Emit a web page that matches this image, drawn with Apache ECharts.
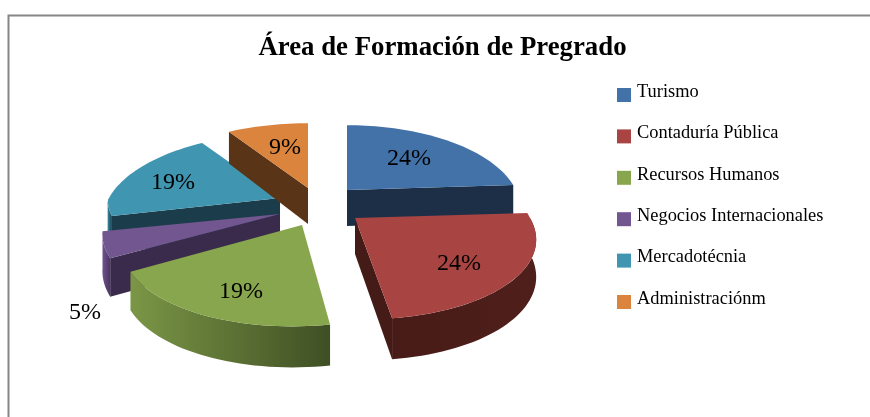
<!DOCTYPE html>
<html><head><meta charset="utf-8">
<style>html,body{margin:0;padding:0;background:#fff}#c{width:870px;height:417px}</style>
<script src="https://cdn.jsdelivr.net/npm/echarts@6/dist/echarts.min.js"></script>
</head><body><div id="c"></div>
<script>
const titleText = 'Área de Formación de Pregrado';
const categories = ['Turismo','Contaduría Pública','Recursos Humanos','Negocios Internacionales','Mercadotécnia','Administraciónm'];
const values = [24,24,19,5,19,9];
const topColors = ['#4372a8','#a84543','#88a64d','#71568f','#4096b0','#db843d'];
const sideColors = ['#1c2f47','#451b18','#3f4f24','#3a2a4b','#1b3c4a','#5a3417'];
const arcLight = ['#1c2f47','#4f1f1b','#7b9646','#6f5390','#3a8aa2','#5a3417'];
const arcDark = ['#1c2f47','#471b17','#3f4f24','#4a3560','#1b3c4a','#5a3417'];
// layout of the exploded wedges (apex of each wedge on the page, and per-wedge perspective tuning)
const apexes = [[347,190],[355,218],[302,225],[280,214],[280,198],[308,188]];
const labelOffsets = [[62,-31],[104,46],[-61,67],[-195,99],[-107,-15],[-23,-40]];
const zOrder = [3,6,5,2,1,4];
const rxScale = [0.965,1,1,0.99,0.985,1];
const shearX = [0,0.09,0,0,0.55,0];
const shearY = [0,0,-0.025,-0.01,-0.015,0];
const RX=175, RY=79, K=0.22;

const total = values.reduce((a,b)=>a+b,0);
let acc = 0;
const spans = values.map(v=>{const s=acc/total*360; acc+=v; return [s,acc/total*360];});

function project(i,deg){
  const t=deg*Math.PI/180, u=Math.sin(t), v=Math.cos(t), w=1+K*v;
  const x=RX*rxScale[i]*u/w, y=-RY*v/w;
  return {x:x+shearX[i]*Math.max(y,0), y:y+shearY[i]*x, d:36-5*v};
}
function arcPts(i,a,b){
  const out=[], n=Math.max(2,Math.ceil((b-a)/2));
  for(let k=0;k<=n;k++){
    const p=project(i,a+(b-a)*k/n);
    out.push([apexes[i][0]+p.x, apexes[i][1]+p.y, p.d]);
  }
  return out;
}
function renderSlice(i){
  return function(){
    const [s,e]=spans[i], [ax,ay]=apexes[i], z=zOrder[i]*10, kids=[];
    const poly=(points,fill,dz)=>kids.push({type:'polygon',shape:{points},style:{fill},z2:z+dz,silent:true});
    const radial=(deg)=>{
      const p=project(i,deg);
      poly([[ax,ay],[ax+p.x,ay+p.y],[ax+p.x,ay+p.y+p.d],[ax,ay+36]],sideColors[i],1);
    };
    if(Math.sin(s*Math.PI/180)<-0.01) radial(s);
    if(Math.sin(e*Math.PI/180)>0.01) radial(e);
    const a0=Math.max(s,90), b0=Math.min(e,270);
    if(b0>a0){
      const pts=arcPts(i,a0,b0);
      const wall=pts.map(p=>[p[0],p[1]]).concat(pts.slice().reverse().map(p=>[p[0],p[1]+p[2]]));
      const right=i<2;
      poly(wall,new echarts.graphic.LinearGradient(0,0,1,0,[
        {offset:0,color:right?arcDark[i]:arcLight[i]},
        {offset:1,color:right?arcLight[i]:arcDark[i]}
      ]),2);
    }
    const face=[[ax,ay]].concat(arcPts(i,s,e).map(p=>[p[0],p[1]]));
    poly(face,topColors[i],3);
    kids.push({type:'text',silent:true,z2:100,style:{
      x:ax+labelOffsets[i][0],y:ay+labelOffsets[i][1],text:values[i]+'%',
      fill:'#000',font:'24px "Liberation Serif"',textAlign:'center',textVerticalAlign:'middle'}});
    return {type:'group',children:kids};
  };
}
const chart=echarts.init(document.getElementById('c'),null,{renderer:'canvas'});
chart.setOption({
  animation:false,
  backgroundColor:'#fff',
  title:{text:titleText,left:437.5,top:30,textAlign:'center',
    textStyle:{fontFamily:'Liberation Serif',fontWeight:'bold',fontSize:26.8,color:'#000'}},
  legend:{orient:'vertical',left:612,top:78,itemWidth:14,itemHeight:14,itemGap:22.4,icon:'rect',
    selectedMode:false,data:categories,
    formatter:name=>'{t|'+name+'}',
    textStyle:{fontFamily:'Liberation Serif',fontSize:18.4,color:'#000',
      rich:{t:{fontFamily:'Liberation Serif',fontSize:18.4,color:'#000',padding:[0,0,6,1]}}}},
  tooltip:{show:false},
  graphic:[{type:'polyline',silent:true,shape:{points:[[8.5,417],[8.5,15.5],[870,15.5]]},
    style:{stroke:'#868686',lineWidth:2,fill:null}}],
  series:categories.map((name,i)=>({
    type:'custom',name,coordinateSystem:'none',data:[values[i]],
    itemStyle:{color:topColors[i]},renderItem:renderSlice(i),silent:true
  }))
});
</script></body></html>
